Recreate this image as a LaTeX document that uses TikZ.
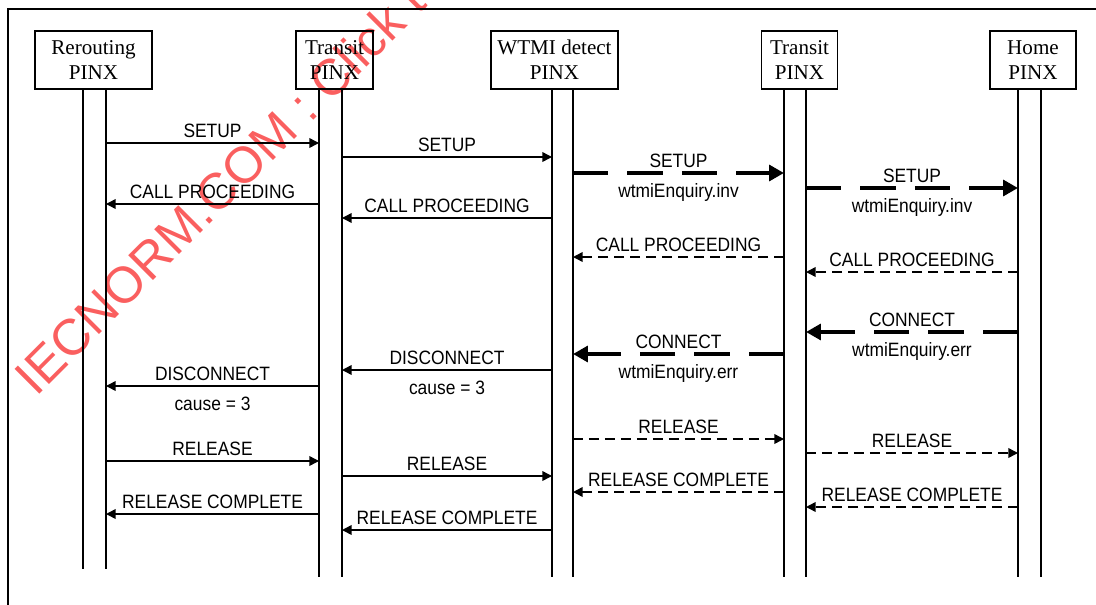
\documentclass[tikz,border=0pt]{standalone}
\usepackage{fontspec}
\setmainfont{Liberation Serif}
\newfontfamily\lblfont{Liberation Sans}[FakeStretch=0.9]
\newfontfamily\wmfont{Liberation Sans}
\usetikzlibrary{arrows.meta}
\definecolor{wmred}{RGB}{250,95,95}
\tikzset{
  pinx/.style={draw, line width=1.1pt, inner sep=0pt, align=center,
    minimum height=1.16cm, font=\fontsize{12}{14.2}\selectfont},
  life/.style={line width=1.1pt},
  lbl/.style={font=\lblfont\fontsize{11}{13}\selectfont, inner sep=0pt, anchor=base},
  solidmsg/.style={line width=0.85pt, -{Triangle[length=5.5pt,width=5.5pt]}},
  dashmsg/.style={line width=0.85pt, dash pattern=on 5.7pt off 3.4pt, -{Triangle[length=5.5pt,width=5.5pt]}},
  thickmsg/.style={line width=2.8pt, dash pattern=on 20pt off 11pt, -{Triangle[length=8.5pt,width=9pt]}},
  wm/.style={font=\wmfont\fontsize{29}{33}\selectfont, text=wmred, inner sep=0pt}
}
\newcommand\msgone[5]{\draw[#1] (#2 |- 0,#4) -- (#3 |- 0,#4)
  node[lbl, midway, yshift=3.4pt] {#5};}
\newcommand\msgtwo[6]{\draw[#1] (#2 |- 0,#4) -- (#3 |- 0,#4)
  node[lbl, midway, yshift=3.4pt] {#5}
  node[lbl, midway, yshift=-14.2pt] {#6};}
\begin{document}
\begin{tikzpicture}[x=0.02cm, y=-0.02cm]
\useasboundingbox (0,0) rectangle (1096,605);
% watermark
\begin{scope}
  \clip (0,0) rectangle (1096,605);
  \node[wm, rotate=45, anchor=base west] (wmark) at (36,398) {IECNORM.COM : Click to view};
\end{scope}
% frame
\draw[line width=1.1pt] (8,605) -- (8,9) -- (1096,9);
% boxes
\node[pinx, minimum width=2.34cm] (b1) at (93.5,60) {Rerouting\\PINX};
\node[pinx, minimum width=1.54cm] (b2) at (334.5,60) {Transit\\PINX};
\node[pinx, minimum width=2.54cm] (b3) at (554.5,60) {WTMI detect\\PINX};
\node[pinx, minimum width=1.52cm] (b4) at (799.5,60) {Transit\\PINX};
\node[pinx, minimum width=1.72cm] (b5) at (1033,60) {Home\\PINX};
% lifelines
\coordinate (L1a) at (83,89);   \coordinate (E1a) at (83,569);
\coordinate (L1b) at (106,89);  \coordinate (E1b) at (106,569);
\coordinate (L2a) at (319,89);  \coordinate (E2a) at (319,577);
\coordinate (L2b) at (342,89);  \coordinate (E2b) at (342,577);
\coordinate (L3a) at (552,89);  \coordinate (E3a) at (552,577);
\coordinate (L3b) at (573,89);  \coordinate (E3b) at (573,577);
\coordinate (L4a) at (784,89);  \coordinate (E4a) at (784,577);
\coordinate (L4b) at (806,89);  \coordinate (E4b) at (806,577);
\coordinate (L5a) at (1018,89); \coordinate (E5a) at (1018,577);
\coordinate (L5b) at (1041,89); \coordinate (E5b) at (1041,577);
\foreach \n in {1a,1b,2a,2b,3a,3b,4a,4b,5a,5b} \draw[life] (L\n) -- (E\n);
% messages
\msgone{solidmsg}{L1b}{L2a}{143}{SETUP}
\msgone{solidmsg}{L2b}{L3a}{157}{SETUP}
\msgtwo{thickmsg}{L3b}{L4a}{173}{SETUP}{wtmiEnquiry.inv}
\msgtwo{thickmsg}{L4b}{L5a}{188}{SETUP}{wtmiEnquiry.inv}
\msgone{solidmsg}{L2a}{L1b}{204}{CALL PROCEEDING}
\msgone{solidmsg}{L3a}{L2b}{218}{CALL PROCEEDING}
\msgone{dashmsg}{L4a}{L3b}{257}{CALL PROCEEDING}
\msgone{dashmsg}{L5a}{L4b}{272}{CALL PROCEEDING}
\msgtwo{thickmsg}{L5a}{L4b}{332}{CONNECT}{wtmiEnquiry.err}
\msgtwo{thickmsg}{L4a}{L3b}{354}{CONNECT}{wtmiEnquiry.err}
\msgtwo{solidmsg}{L3a}{L2b}{370}{DISCONNECT}{cause = 3}
\msgtwo{solidmsg}{L2a}{L1b}{386}{DISCONNECT}{cause = 3}
\msgone{dashmsg}{L3b}{L4a}{439}{RELEASE}
\msgone{dashmsg}{L4b}{L5a}{453}{RELEASE}
\msgone{solidmsg}{L1b}{L2a}{461}{RELEASE}
\msgone{solidmsg}{L2b}{L3a}{476}{RELEASE}
\msgone{dashmsg}{L4a}{L3b}{492}{RELEASE COMPLETE}
\msgone{dashmsg}{L5a}{L4b}{507}{RELEASE COMPLETE}
\msgone{solidmsg}{L2a}{L1b}{514}{RELEASE COMPLETE}
\msgone{solidmsg}{L3a}{L2b}{530}{RELEASE COMPLETE}
\end{tikzpicture}
\end{document}
